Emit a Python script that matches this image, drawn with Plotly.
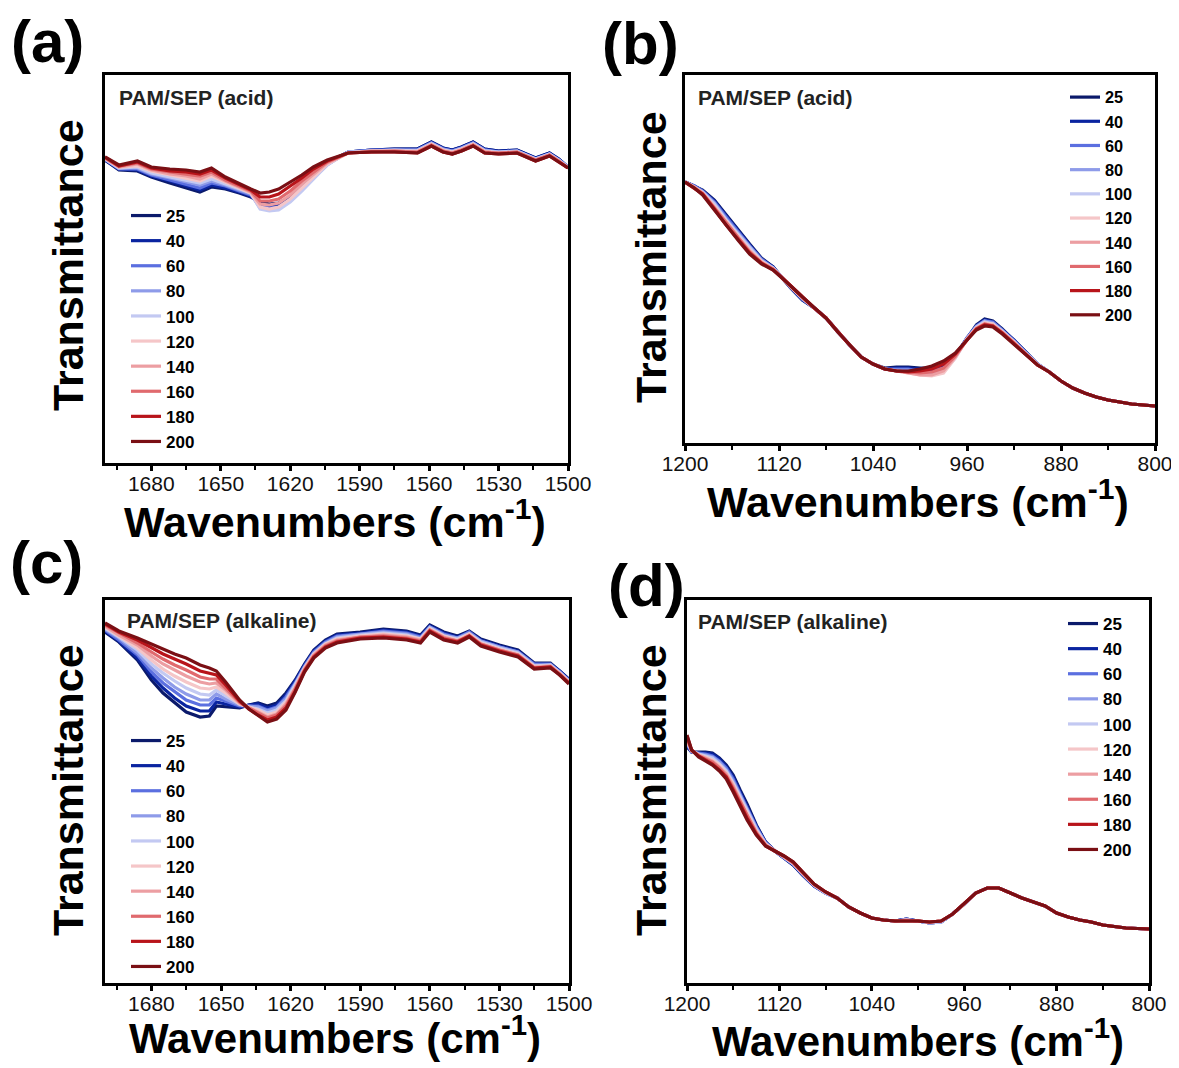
import plotly.graph_objects as go

# page body keeps an 8 px margin, so the figure is offset by 8 px
PAGE_W, PAGE_H, OFF = 1179, 1068, 8
W, H = PAGE_W - OFF, PAGE_H - OFF


def fx(px):
    return (px - OFF) / W


def fy(py):
    return 1 - (py - OFF) / H


TEMPS = ["25", "40", "60", "80", "100", "120", "140", "160", "180", "200"]
COLORS = ["#0b1a6b", "#0a24a0", "#5b6fe0", "#8e9be9", "#c3c9f2",
          "#f5c6c8", "#ec9ea2", "#e06a6e", "#b8141a", "#7a0f14"]

# ---------------- panel (a): acid, 1700-1500 cm-1 ----------------
WN_A = [1700, 1694, 1686, 1680, 1672, 1665, 1659, 1654, 1648, 1642, 1637, 1633, 1629, 1625, 1620, 1615, 1610,
        1604, 1595, 1585, 1575, 1565, 1559, 1554, 1550, 1546, 1541, 1536, 1530, 1522, 1514, 1508, 1504, 1500]
A_25 = [303, 293, 292, 286, 280, 275, 271, 276, 274, 270, 266, 261, 259, 260, 266, 276, 288, 300,
        311, 313, 314, 314, 321, 315, 313, 316, 321, 314, 312, 313, 305, 310, 304, 296]
A_40 = [303, 294, 293, 287, 282, 277, 273, 278, 275, 271, 267, 259, 257, 258, 264, 275, 287, 299,
        311, 313, 314, 314, 321, 315, 313, 316, 321, 314, 312, 313, 305, 310, 304, 296]
A_60 = [304, 294, 294, 288, 283, 279, 275, 280, 277, 272, 268, 257, 255, 256, 263, 274, 286, 299,
        311, 313, 313, 313, 320, 314, 312, 315, 320, 313, 311, 312, 304, 309, 303, 296]
A_80 = [304, 295, 295, 289, 285, 281, 278, 282, 278, 273, 269, 255, 253, 254, 262, 273, 285, 298,
        311, 312, 313, 313, 320, 314, 312, 315, 320, 313, 311, 312, 304, 309, 303, 296]
A_100 = [304, 295, 296, 290, 286, 283, 280, 284, 279, 274, 270, 254, 252, 253, 261, 272, 284, 298,
         311, 312, 313, 312, 319, 313, 311, 314, 319, 312, 311, 312, 304, 309, 303, 296]
A_120 = [305, 296, 297, 292, 288, 285, 282, 287, 281, 275, 270, 256, 254, 256, 264, 275, 286, 299,
         310, 312, 312, 312, 319, 313, 311, 314, 319, 312, 310, 311, 303, 308, 302, 295]
A_140 = [305, 296, 299, 293, 289, 287, 284, 289, 282, 276, 271, 259, 258, 260, 268, 279, 289, 300,
         310, 312, 312, 311, 318, 312, 310, 313, 318, 311, 310, 311, 303, 308, 302, 295]
A_160 = [305, 297, 300, 294, 291, 289, 287, 291, 283, 277, 272, 262, 262, 264, 272, 282, 291, 301,
         310, 311, 312, 311, 318, 312, 310, 313, 318, 311, 310, 311, 303, 308, 302, 295]
A_180 = [306, 297, 301, 295, 292, 291, 289, 293, 285, 278, 273, 266, 266, 269, 277, 285, 294, 302,
         310, 311, 311, 310, 317, 311, 309, 312, 317, 310, 309, 310, 302, 307, 301, 295]
A_200 = [306, 298, 302, 296, 294, 293, 291, 295, 286, 279, 274, 270, 271, 274, 281, 288, 296, 303,
         310, 311, 311, 310, 317, 311, 309, 312, 317, 310, 309, 310, 302, 307, 301, 295]

# ---------------- panel (b): acid, 1200-800 cm-1 ----------------
WN_B = [1200, 1192, 1185, 1175, 1165, 1155, 1145, 1135, 1125, 1118, 1110, 1100, 1090, 1080, 1070, 1060,
        1050, 1040, 1030, 1020, 1010, 1000, 990, 980, 970, 960, 952, 945, 938, 930, 920, 910, 900,
        890, 880, 870, 860, 850, 840, 830, 820, 810, 800]
B_25 = [261, 257, 253, 243, 228, 213, 199, 185, 176, 166, 155, 143, 135, 125, 111, 98, 86, 79, 75, 76, 76,
        75, 75, 77, 87, 105, 118, 124, 122, 114, 103, 91, 79, 71, 62, 55, 50, 46, 43, 41, 39, 38, 37]
B_40 = [261, 257, 252, 242, 227, 212, 198, 184, 176, 166, 155, 143, 135, 125, 111, 98, 86, 79, 74, 75, 75,
        74, 74, 76, 87, 105, 117, 123, 121, 113, 103, 91, 79, 71, 62, 55, 50, 46, 43, 41, 39, 38, 37]
B_60 = [261, 257, 252, 241, 226, 211, 197, 184, 175, 166, 156, 144, 135, 125, 111, 98, 86, 79, 74, 74, 74,
        72, 72, 75, 86, 105, 117, 122, 121, 113, 102, 90, 79, 71, 62, 55, 50, 46, 43, 41, 39, 38, 37]
B_80 = [261, 256, 251, 240, 224, 210, 196, 183, 175, 166, 156, 144, 135, 125, 111, 98, 86, 79, 74, 73, 73,
        70, 70, 73, 86, 104, 116, 122, 120, 112, 102, 90, 79, 71, 62, 55, 50, 46, 43, 41, 39, 38, 37]
B_100 = [261, 256, 251, 239, 223, 209, 195, 182, 175, 166, 156, 145, 135, 125, 111, 98, 86, 79, 74, 72, 71,
         69, 68, 71, 85, 104, 116, 121, 119, 112, 101, 90, 79, 71, 62, 55, 50, 46, 43, 41, 39, 38, 37]
B_120 = [261, 256, 250, 237, 222, 207, 193, 182, 174, 166, 156, 145, 135, 125, 111, 98, 86, 79, 74, 72, 70,
         68, 67, 70, 85, 104, 115, 120, 119, 111, 101, 89, 78, 71, 62, 55, 50, 46, 43, 41, 39, 38, 37]
B_140 = [261, 256, 250, 236, 221, 206, 192, 181, 174, 166, 157, 145, 135, 125, 111, 98, 86, 79, 74, 72, 70,
         68, 68, 72, 86, 104, 115, 119, 118, 111, 100, 89, 78, 71, 62, 55, 50, 46, 43, 41, 39, 38, 37]
B_160 = [261, 255, 249, 235, 220, 205, 191, 180, 174, 166, 157, 146, 135, 125, 111, 98, 86, 79, 74, 72, 71,
         70, 71, 75, 87, 103, 114, 119, 117, 110, 100, 89, 78, 71, 62, 55, 50, 46, 43, 41, 39, 38, 37]
B_180 = [261, 255, 249, 234, 218, 204, 190, 180, 173, 166, 157, 146, 135, 125, 111, 98, 86, 79, 74, 72, 71,
         72, 74, 79, 89, 103, 114, 118, 117, 110, 99, 88, 78, 71, 62, 55, 50, 46, 43, 41, 39, 38, 37]
B_200 = [261, 255, 248, 233, 217, 203, 189, 179, 173, 166, 157, 146, 135, 125, 111, 98, 86, 79, 74, 72, 72,
         74, 77, 82, 90, 103, 113, 117, 116, 109, 99, 88, 78, 71, 62, 55, 50, 46, 43, 41, 39, 38, 37]

# ---------------- panel (c): alkaline, 1700-1500 cm-1 ----------------
WN_C = [1700, 1694, 1686, 1680, 1675, 1670, 1665, 1659, 1655, 1652, 1648, 1642, 1638, 1634, 1630, 1626,
        1622, 1618, 1614, 1610, 1605, 1600, 1590, 1580, 1570, 1564, 1560, 1554, 1548, 1543, 1538, 1530,
        1522, 1515, 1508, 1504, 1500]
C_25 = [351, 341, 323, 303, 290, 280, 271, 266, 267, 277, 276, 275, 278, 280, 277, 280, 290, 303, 319, 333,
        343, 349, 351, 354, 352, 348, 358, 351, 347, 352, 344, 338, 333, 320, 320, 312, 304]
C_40 = [352, 342, 325, 307, 295, 285, 277, 272, 272, 281, 279, 276, 278, 279, 275, 278, 288, 302, 318, 332,
        342, 348, 350, 353, 351, 347, 357, 350, 346, 351, 343, 337, 332, 319, 319, 312, 303]
C_60 = [353, 343, 328, 311, 300, 291, 283, 278, 278, 285, 282, 277, 277, 277, 273, 276, 286, 300, 317, 331,
        341, 347, 349, 352, 350, 346, 356, 349, 345, 351, 342, 336, 331, 319, 319, 311, 303]
C_80 = [354, 345, 330, 315, 305, 296, 289, 283, 283, 289, 284, 278, 277, 276, 272, 275, 284, 299, 316, 330,
        340, 346, 349, 351, 349, 345, 356, 348, 345, 350, 342, 336, 331, 318, 318, 311, 302]
C_100 = [355, 346, 333, 319, 310, 302, 295, 289, 288, 293, 287, 279, 276, 274, 270, 273, 282, 298, 315, 329,
         339, 345, 348, 350, 348, 344, 355, 347, 344, 349, 341, 335, 330, 317, 318, 310, 302]
C_120 = [356, 347, 335, 323, 314, 307, 301, 295, 294, 296, 290, 279, 276, 273, 268, 271, 281, 296, 315, 329,
         339, 344, 347, 349, 347, 344, 354, 347, 343, 349, 340, 334, 329, 317, 317, 310, 301]
C_140 = [357, 348, 338, 327, 319, 313, 307, 301, 299, 300, 293, 280, 275, 271, 266, 269, 279, 295, 314, 328,
         338, 343, 346, 348, 346, 343, 353, 346, 342, 348, 339, 333, 328, 316, 317, 309, 301]
C_160 = [358, 350, 340, 331, 324, 318, 313, 306, 304, 304, 295, 281, 275, 270, 265, 268, 277, 294, 313, 327,
         337, 342, 346, 347, 345, 342, 353, 345, 342, 347, 339, 333, 328, 315, 316, 309, 300]
C_180 = [359, 351, 343, 335, 329, 324, 319, 312, 310, 308, 298, 282, 274, 268, 263, 266, 275, 292, 312, 326,
         336, 341, 345, 346, 344, 341, 352, 344, 341, 347, 338, 332, 327, 315, 316, 308, 300]
C_200 = [360, 352, 345, 339, 334, 329, 325, 318, 315, 312, 301, 283, 274, 267, 261, 264, 273, 291, 311, 325,
         335, 340, 344, 345, 343, 340, 351, 343, 340, 346, 337, 331, 326, 314, 315, 308, 299]

# ---------------- panel (d): alkaline, 1200-800 cm-1 ----------------
WN_D = [1200, 1196, 1190, 1184, 1178, 1172, 1166, 1160, 1154, 1148, 1140, 1132, 1124, 1116, 1108, 1100,
        1090, 1080, 1070, 1060, 1050, 1040, 1030, 1020, 1010, 1000, 990, 980, 970, 960, 950, 940, 930,
        920, 910, 900, 890, 880, 870, 860, 850, 840, 820, 800]
D_25 = [236, 231, 231, 231, 230, 225, 218, 208, 193, 179, 158, 141, 132, 125, 118, 108, 97, 90, 85, 76, 70, 65,
        63, 62, 64, 62, 60, 61, 69, 79, 90, 95, 95, 90, 85, 81, 77, 70, 66, 63, 61, 58, 55, 54]
D_40 = [237, 231, 230, 230, 229, 224, 216, 206, 191, 177, 157, 141, 132, 125, 118, 108, 97, 90, 85, 76, 70, 65,
        63, 62, 64, 62, 60, 61, 69, 79, 90, 95, 95, 90, 85, 81, 77, 70, 66, 63, 61, 58, 55, 54]
D_60 = [239, 231, 230, 229, 227, 222, 215, 204, 189, 175, 156, 140, 132, 125, 119, 109, 97, 90, 85, 76, 70, 65,
        63, 62, 64, 62, 60, 61, 69, 79, 90, 95, 95, 90, 85, 81, 77, 70, 66, 63, 61, 58, 55, 54]
D_80 = [240, 232, 229, 228, 226, 221, 213, 202, 188, 174, 155, 140, 132, 126, 119, 109, 98, 90, 85, 76, 70, 65,
        63, 62, 63, 62, 60, 61, 69, 79, 90, 95, 95, 90, 85, 81, 77, 70, 66, 63, 61, 58, 55, 54]
D_100 = [241, 232, 229, 227, 225, 219, 212, 200, 186, 172, 154, 139, 132, 126, 119, 109, 98, 90, 85, 76, 70, 65,
         63, 62, 63, 62, 60, 61, 69, 79, 90, 95, 95, 90, 85, 81, 77, 70, 66, 63, 61, 58, 55, 54]
D_120 = [243, 232, 228, 226, 223, 218, 210, 199, 184, 170, 152, 139, 132, 126, 120, 110, 98, 91, 85, 76, 70, 65,
         63, 62, 63, 62, 61, 62, 69, 79, 90, 95, 95, 90, 85, 81, 77, 70, 66, 63, 61, 58, 55, 54]
D_140 = [244, 232, 228, 225, 222, 216, 209, 197, 182, 168, 151, 138, 132, 126, 120, 110, 98, 91, 85, 76, 70, 65,
         63, 62, 63, 62, 61, 62, 69, 79, 90, 95, 95, 90, 85, 81, 77, 70, 66, 63, 61, 58, 55, 54]
D_160 = [245, 233, 227, 224, 221, 215, 207, 195, 181, 167, 150, 138, 132, 127, 120, 110, 99, 91, 85, 76, 70, 65,
         63, 62, 62, 62, 61, 62, 69, 79, 90, 95, 95, 90, 85, 81, 77, 70, 66, 63, 61, 58, 55, 54]
D_180 = [247, 233, 227, 223, 219, 213, 206, 193, 179, 165, 149, 137, 132, 127, 121, 111, 99, 91, 85, 76, 70, 65,
         63, 62, 62, 62, 61, 62, 69, 79, 90, 95, 95, 90, 85, 81, 77, 70, 66, 63, 61, 58, 55, 54]
D_200 = [248, 233, 226, 222, 218, 212, 204, 191, 177, 163, 148, 137, 132, 127, 121, 111, 99, 91, 85, 76, 70, 65,
         63, 62, 62, 62, 61, 62, 69, 79, 90, 95, 95, 90, 85, 81, 77, 70, 66, 63, 61, 58, 55, 54]

PANEL_LABELS = ["(a)", "(b)", "(c)", "(d)"]
SAMPLE_LABELS = ["PAM/SEP (acid)", "PAM/SEP (acid)", "PAM/SEP (alkaline)", "PAM/SEP (alkaline)"]
X_TITLE = "Wavenumbers (cm<sup>-1</sup>)"
Y_TITLE = "Transmittance"

panels = [
    dict(x=WN_A, ys=[A_25, A_40, A_60, A_80, A_100, A_120, A_140, A_160, A_180, A_200],
         xr=[1700, 1500], yr=[0, 388], dom=(105, 568, 75, 463), dtick=30, minor=15, t0=1680,
         legend=(126, 198, 17), label=(47, 42), sample=(117, 98), ytitle=(68, 265), xtitle=(335, 519, 43)),
    dict(x=WN_B, ys=[B_25, B_40, B_60, B_80, B_100, B_120, B_140, B_160, B_180, B_200],
         xr=[1200, 800], yr=[0, 368], dom=(685, 1155, 75, 443), dtick=80, minor=40, t0=1200,
         legend=(1065, 80, 16.3), label=(640, 44), sample=(696, 98), ytitle=(651, 257), xtitle=(918, 499, 43)),
    dict(x=WN_C, ys=[C_25, C_40, C_60, C_80, C_100, C_120, C_140, C_160, C_180, C_200],
         xr=[1700, 1500], yr=[0, 383], dom=(105, 569, 600, 983), dtick=30, minor=15, t0=1680,
         legend=(126, 723, 17), label=(46, 562), sample=(125, 620), ytitle=(68, 790), xtitle=(335, 1035, 42)),
    dict(x=WN_D, ys=[D_25, D_40, D_60, D_80, D_100, D_120, D_140, D_160, D_180, D_200],
         xr=[1200, 800], yr=[0, 383], dom=(687, 1149, 600, 983), dtick=80, minor=40, t0=1200,
         legend=(1063, 606, 17), label=(646, 585), sample=(696, 621), ytitle=(651, 790), xtitle=(918, 1038, 42)),
]

FONT = "Liberation Sans, Arial, sans-serif"
fig = go.Figure()
annotations = []
layout = dict(template="none", width=W, height=H, autosize=False,
              margin=dict(l=0, r=0, t=0, b=0, pad=0, autoexpand=False),
              paper_bgcolor="white", plot_bgcolor="white", font=dict(family=FONT, color="black"))

for k, p in enumerate(panels):
    n = "" if k == 0 else str(k + 1)
    xa, ya = "x" + n, "y" + n
    lg = "legend" + n
    for t, y, c in zip(TEMPS, p["ys"], COLORS):
        fig.add_trace(go.Scatter(x=p["x"], y=y, mode="lines", name=t, legend=lg,
                                 line=dict(color=c, width=3.2), xaxis=xa, yaxis=ya))
    l, r, top, bot = p["dom"]
    layout["xaxis" + n] = dict(domain=[fx(l), fx(r)], range=p["xr"], anchor=ya, automargin=False,
                               showline=True, linewidth=3, linecolor="black", mirror=True,
                               ticks="outside", ticklen=5, tickwidth=3, tickcolor="black",
                               tick0=p["t0"], dtick=p["dtick"], showgrid=False, zeroline=False,
                               ticklabeloverflow="allow", ticklabelstandoff=-5,
                               tickfont=dict(size=21, family=FONT, color="#111"),
                               minor=dict(ticks="outside", ticklen=4, tickwidth=2, dtick=p["minor"],
                                          tick0=p["t0"], tickcolor="black", showgrid=False))
    layout["yaxis" + n] = dict(domain=[fy(bot), fy(top)], range=p["yr"], anchor=xa, automargin=False,
                               showline=True, linewidth=3, linecolor="black", mirror=True,
                               ticks="", showticklabels=False, showgrid=False, zeroline=False)
    lx, ly, fs = p["legend"]
    layout[lg] = dict(x=fx(lx), y=fy(ly), xanchor="left", yanchor="top",
                      bgcolor="rgba(0,0,0,0)", borderwidth=0, tracegroupgap=0,
                      font=dict(size=fs, family=FONT, color="black", weight="bold"))
    annotations.append(dict(text=PANEL_LABELS[k], x=fx(p["label"][0]), y=fy(p["label"][1]),
                            xref="paper", yref="paper", showarrow=False, xanchor="center", yanchor="middle",
                            font=dict(size=60, family=FONT, color="black", weight="bold")))
    annotations.append(dict(text=SAMPLE_LABELS[k], x=fx(p["sample"][0]), y=fy(p["sample"][1]),
                            xref="paper", yref="paper", showarrow=False, xanchor="left", yanchor="middle",
                            font=dict(size=21, family=FONT, color="#222", weight="bold")))
    annotations.append(dict(text=Y_TITLE, x=fx(p["ytitle"][0]), y=fy(p["ytitle"][1]), textangle=-90,
                            xref="paper", yref="paper", showarrow=False, xanchor="center", yanchor="middle",
                            font=dict(size=43, family=FONT, color="black", weight="bold")))
    xt_x, xt_y, xt_s = p["xtitle"]
    annotations.append(dict(text=X_TITLE, x=fx(xt_x), y=fy(xt_y),
                            xref="paper", yref="paper", showarrow=False, xanchor="center", yanchor="middle",
                            font=dict(size=xt_s, family=FONT, color="black", weight="bold")))

layout["annotations"] = annotations
layout["showlegend"] = True
fig.update_layout(**layout)
fig.write_html("out.html")
